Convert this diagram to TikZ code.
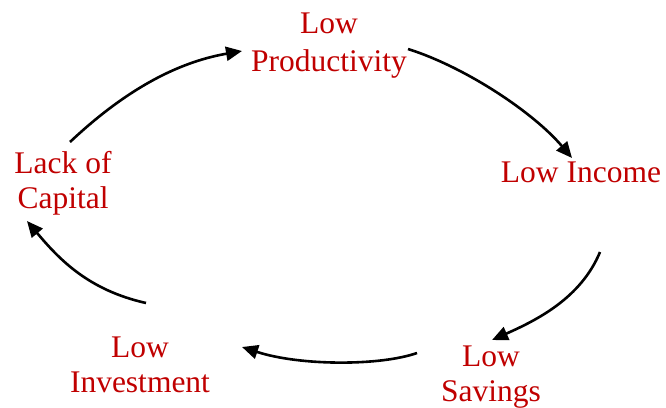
\documentclass[tikz,border=0pt]{standalone}
\usepackage{fontspec}
\setmainfont{Liberation Serif}
\usetikzlibrary{arrows.meta}
\definecolor{circred}{RGB}{192,0,0}

\begin{document}
\begin{tikzpicture}[x=1pt,y=-1pt,
	stage/.style={text=circred,align=center,inner sep=0pt,font=\fontsize{31.5}{35}\selectfont},
	cyc/.style={line width=2.6pt,-{Triangle[length=16pt,width=14pt]}}]
	\useasboundingbox (0,0) rectangle (666,407);
	\node[stage] (prod) at (329,45.5)  {Low\\[3pt]Productivity};
	\node[stage] (inc)  at (581,172.5) {Low Income};
	\node[stage] (sav)  at (491,377)   {Low\\Savings};
	\node[stage] (inv)  at (140,365)   {Low\\Investment};
	\node[stage] (cap)  at (63,183)    {Lack of\\Capital};
	\draw[cyc] ([xshift=7pt,yshift=41pt]cap.center) .. controls (121,94) and (173,63) .. ([xshift=-87pt,yshift=-5.5pt]prod.center);
	\draw[cyc] ([xshift=79pt,yshift=-3.5pt]prod.center) .. controls (465,67) and (533,112) .. ([xshift=-9pt,yshift=14.5pt]inc.center);
	\draw[cyc] ([xshift=19pt,yshift=-79.5pt]inc.center) .. controls (581,298) and (537,320) .. ([xshift=1pt,yshift=37pt]sav.center);
	\draw[cyc] ([xshift=-74pt,yshift=24pt]sav.center) .. controls (380,366) and (300,366) .. ([xshift=102pt,yshift=18pt]inv.center);
	\draw[cyc] ([xshift=6pt,yshift=62pt]inv.center) .. controls (88,290) and (59,259) .. ([xshift=-36pt,yshift=-38pt]cap.center);
\end{tikzpicture}
\end{document}
